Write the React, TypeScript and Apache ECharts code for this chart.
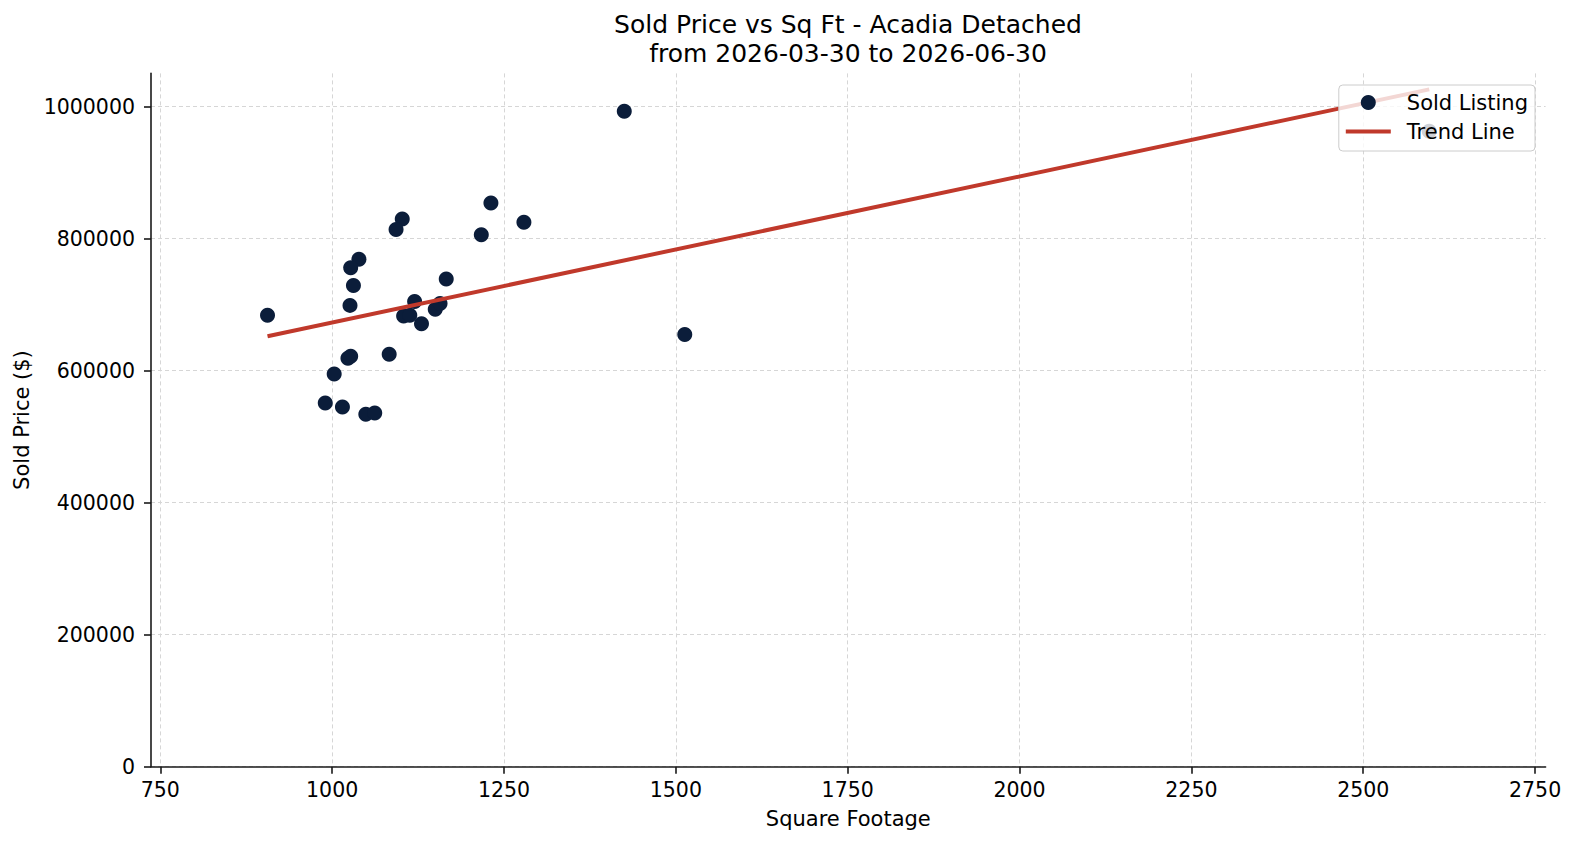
import React, { useEffect, useRef } from "react";
import * as echarts from "echarts";

// Sold listings: living area (sq ft) and sold price ($)
const sqft = [
  906, 1102, 1093, 1039, 1027, 1031, 1026, 1120, 1104, 1113, 1130, 1150, 1157, 1166,
  1231, 1279, 1217, 1027, 1023, 1083, 1003, 990, 1015, 1049, 1062, 1425, 1513, 2596,
];
const soldPrice = [
  684000, 830000, 814000, 769000, 756000, 729000, 699000, 705000, 683000, 684000, 671000,
  693000, 702000, 739000, 854000, 825000, 806000, 622000, 619000, 625000, 595000, 551000,
  545000, 534000, 536000, 993000, 655000, 963000,
];

const xTicks = [750, 1000, 1250, 1500, 1750, 2000, 2250, 2500, 2750];
const yTicks = [0, 200000, 400000, 600000, 800000, 1000000];

const titleLines = ["Sold Price vs Sq Ft - Acadia Detached", "from 2026-03-30 to 2026-06-30"];

const FONT = "DejaVu Sans";
const TREND_COLOR = "#c0392b";

// Least-squares fit over the listings, drawn from smallest to largest sq ft
function trendLine(xs: number[], ys: number[]): number[][] {
  const n = xs.length;
  const mx = xs.reduce((a, b) => a + b, 0) / n;
  const my = ys.reduce((a, b) => a + b, 0) / n;
  let sxy = 0;
  let sxx = 0;
  for (let i = 0; i < n; i++) {
    sxy += (xs[i] - mx) * (ys[i] - my);
    sxx += (xs[i] - mx) * (xs[i] - mx);
  }
  const slope = sxy / sxx;
  const intercept = my - slope * mx;
  const x0 = Math.min(...xs);
  const x1 = Math.max(...xs);
  return [
    [x0, intercept + slope * x0],
    [x1, intercept + slope * x1],
  ];
}

export default function App() {
  const ref = useRef<HTMLDivElement>(null);

  useEffect(() => {
    if (!ref.current) return;
    const chart = echarts.init(ref.current, null, { renderer: "svg" });
    const points = sqft.map((x, i) => [x, soldPrice[i]]);
    const gridStyle = { color: "#d6d6d6", width: 1, type: [4, 3] as number[] };
    const tickText = { color: "#000", fontFamily: FONT, fontSize: 20.5 };
    const nameText = { color: "#000", fontFamily: FONT, fontSize: 21 };

    chart.setOption({
      animation: false,
      backgroundColor: "#ffffff",
      textStyle: { fontFamily: FONT },
      title: {
        text: titleLines.join("\n"),
        left: 848,
        top: 10,
        padding: 0,
        textAlign: "center",
        textStyle: {
          fontFamily: FONT,
          fontSize: 25,
          fontWeight: "normal",
          color: "#000",
          lineHeight: 29,
        },
      },
      legend: {
        orient: "vertical",
        right: 41,
        top: 85,
        padding: [7, 7, 9, 7],
        itemGap: 8,
        itemWidth: 45,
        itemHeight: 15,
        backgroundColor: "rgba(255,255,255,0.8)",
        borderColor: "#cccccc",
        borderWidth: 1,
        borderRadius: 4,
        textStyle: {
          fontFamily: FONT,
          fontSize: 21,
          color: "#000",
          lineHeight: 20,
          padding: [0, 0, 0, 11],
        },
        data: [
          { name: "Sold Listing", icon: "circle" },
          { name: "Trend Line", icon: "path://M0,0 L45,0 L45,4 L0,4 Z" },
        ],
      },
      grid: { left: 151, top: 73.4, width: 1394.6, height: 693.3, containLabel: false },
      xAxis: {
        type: "value",
        min: 736.5,
        max: 2765.3,
        name: "Square Footage",
        nameLocation: "middle",
        nameGap: 42,
        nameTextStyle: nameText,
        axisLine: { show: true, onZero: false, lineStyle: { color: "#1a1a1a", width: 1.6 } },
        axisTick: {
          show: true,
          length: 7,
          customValues: xTicks,
          lineStyle: { color: "#1a1a1a", width: 1.6 },
        },
        axisLabel: {
          customValues: xTicks,
          margin: 13,
          formatter: (v: number) => String(v),
          ...tickText,
        },
        splitLine: { show: true, lineStyle: gridStyle },
      },
      yAxis: {
        type: "value",
        min: 0,
        max: 1050500,
        name: "Sold Price ($)",
        nameLocation: "middle",
        nameGap: 118,
        nameTextStyle: nameText,
        axisLine: { show: true, onZero: false, lineStyle: { color: "#1a1a1a", width: 1.6 } },
        axisTick: {
          show: true,
          length: 7,
          customValues: yTicks,
          lineStyle: { color: "#1a1a1a", width: 1.6 },
        },
        axisLabel: {
          customValues: yTicks,
          margin: 16,
          formatter: (v: number) => String(v),
          ...tickText,
        },
        splitLine: { show: true, lineStyle: gridStyle },
      },
      series: [
        {
          name: "Sold Listing",
          type: "scatter",
          symbol: "circle",
          symbolSize: 15,
          itemStyle: { color: "#0b1d3a", opacity: 1 },
          data: points,
          z: 2,
        },
        {
          name: "Trend Line",
          type: "line",
          symbol: "none",
          showSymbol: false,
          lineStyle: { color: TREND_COLOR, width: 4 },
          itemStyle: { color: TREND_COLOR },
          data: trendLine(sqft, soldPrice),
          z: 3,
        },
      ],
    });

    return () => chart.dispose();
  }, []);

  return (
    <div
      ref={ref}
      style={{ position: "absolute", left: 0, top: 0, width: 1576, height: 845 }}
    />
  );
}
